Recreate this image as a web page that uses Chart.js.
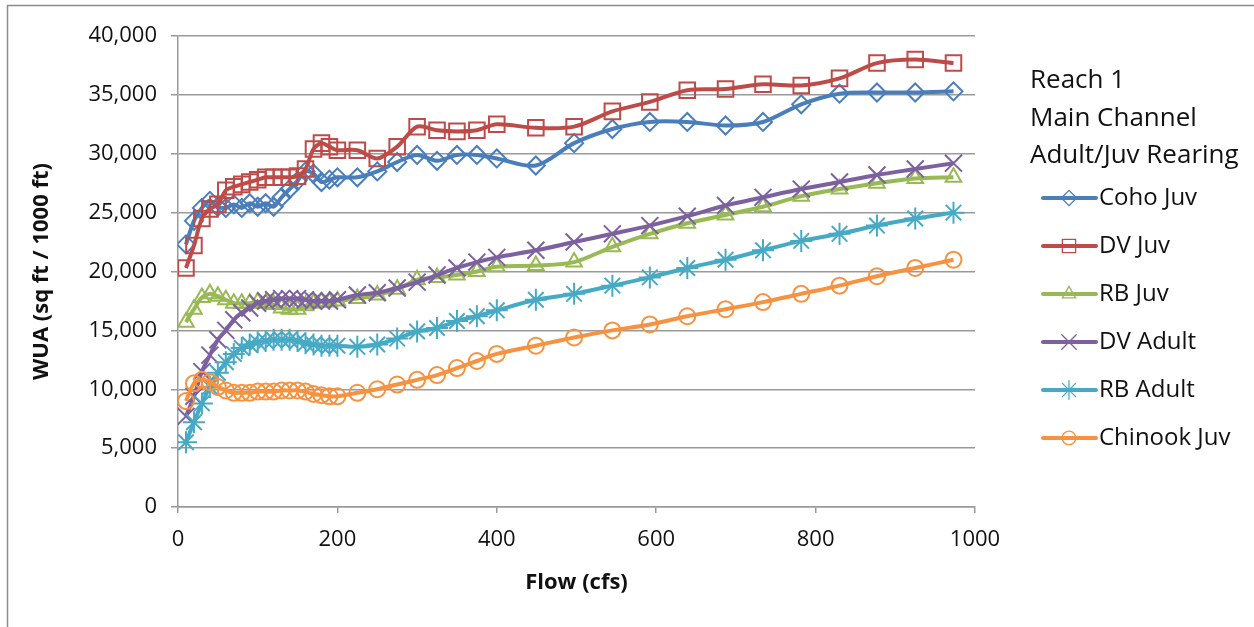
<!DOCTYPE html>
<html>
<head>
<meta charset="utf-8">
<title>Reach 1 Main Channel WUA</title>
<script src="https://cdn.jsdelivr.net/npm/chart.js@4.4.0/dist/chart.umd.min.js"></script>
<style>
  html, body { margin: 0; padding: 0; background: #fff; }
  #wrap { position: relative; width: 1254px; height: 627px; }
</style>
</head>
<body>
<div id="wrap"><canvas id="wua" width="1254" height="627"></canvas></div>
<script>
// flow steps (cfs)
const flows = [10, 20, 30, 40, 50, 60, 70, 80, 90, 100, 110, 120, 130, 140, 150, 160, 170, 180, 190, 200,
  225, 250, 275, 300, 325, 350, 375, 400,
  449, 497, 545, 592, 639, 687, 734, 782, 830, 877, 925, 973];

// weighted usable area, sq ft / 1000 ft
const cohoJuv = [22300, 24300, 25400, 26000, 25500, 25400, 25700, 25400, 25800, 25500, 25800, 25500, 26300, 27000, 27700, 28500, 28300, 27600, 27800, 28000,
  28000, 28500, 29300, 29900, 29400, 29900, 29900, 29600,
  29000, 30900, 32100, 32700, 32700, 32400, 32700, 34200, 35100, 35200, 35200, 35300];
const dvJuv = [20300, 22200, 24500, 25300, 25700, 26900, 27200, 27400, 27600, 27800, 28000, 28000, 28000, 28000, 28100, 28700, 30400, 30900, 30600, 30300,
  30300, 29600, 30600, 32300, 32000, 31900, 32000, 32500,
  32200, 32300, 33600, 34400, 35400, 35500, 35900, 35800, 36400, 37700, 38000, 37700];
const rbJuv = [15700, 16800, 17800, 18100, 17900, 17600, 17300, 17300, 17300, 17400, 17300, 17200, 16900, 16800, 16800, 17100, 17300, 17400, 17400, 17500,
  17700, 18000, 18500, 19300, 19500, 19700, 20000, 20400,
  20500, 20800, 22100, 23200, 24100, 24800, 25500, 26400, 27000, 27500, 27900, 28000];
const dvAdult = [7700, 9400, 11500, 12900, 14200, 15000, 15900, 16500, 16900, 17300, 17500, 17600, 17700, 17700, 17700, 17600, 17500, 17500, 17500, 17600,
  18000, 18200, 18600, 19100, 19700, 20300, 20800, 21200,
  21800, 22500, 23200, 23900, 24700, 25600, 26300, 27000, 27600, 28200, 28700, 29200];
const rbAdult = [5500, 7200, 8800, 10200, 11400, 12300, 13000, 13500, 13800, 14000, 14100, 14200, 14200, 14200, 14100, 13900, 13800, 13700, 13700, 13700,
  13600, 13800, 14300, 14900, 15200, 15800, 16200, 16700,
  17600, 18100, 18800, 19500, 20300, 21000, 21800, 22600, 23200, 23900, 24500, 25000];
const chinookJuv = [9000, 10500, 10800, 10600, 10200, 9900, 9700, 9700, 9700, 9800, 9800, 9800, 9900, 9900, 9900, 9800, 9600, 9500, 9400, 9400,
  9700, 10000, 10400, 10800, 11200, 11800, 12400, 13000,
  13700, 14400, 15000, 15500, 16200, 16800, 17400, 18100, 18800, 19600, 20300, 21000];

const seriesNames = ["Coho Juv", "DV Juv", "RB Juv", "DV Adult", "RB Adult", "Chinook Juv"];
const legendTitle = ["Reach 1", "Main Channel", "Adult/Juv Rearing"];
const xTicks = [0, 200, 400, 600, 800, 1000];
const yTicks = [0, 5000, 10000, 15000, 20000, 25000, 30000, 35000, 40000];

const FONT = "'Open Sans', 'Liberation Sans', sans-serif";
const GRID = "#9a9a9a";

const styles = [
  { color: "#4a7ebb", marker: "rectRot", r: 9 },
  { color: "#be4b48", marker: "rect", r: 11 },
  { color: "#98b954", marker: "triangle", r: 9 },
  { color: "#7d60a0", marker: "crossRot", r: 12 },
  { color: "#46aac5", marker: "star", r: 11 },
  { color: "#f69240", marker: "circle", r: 8 },
];

const values = [cohoJuv, dvJuv, rbJuv, dvAdult, rbAdult, chinookJuv];

const datasets = values.map((vals, i) => ({
  label: seriesNames[i],
  data: flows.map((f, j) => ({ x: f, y: vals[j] })),
  borderColor: styles[i].color,
  borderWidth: 4,
  pointStyle: styles[i].marker,
  pointRadius: styles[i].r,
  pointBorderColor: styles[i].color,
  pointBackgroundColor: "rgba(0,0,0,0)",
  pointBorderWidth: 2,
  tension: 0.3,
  order: values.length - i,   // later series sit on top
}));

// legend on the right plus the outer frame
const sideLegend = {
  id: "sideLegend",
  afterDraw(chart) {
    const ctx = chart.ctx;
    ctx.save();
    ctx.strokeStyle = "#8c8c8c";
    ctx.lineWidth = 1.5;
    ctx.beginPath();
    ctx.moveTo(7.5, 627);
    ctx.lineTo(7.5, 5.5);
    ctx.lineTo(1254, 5.5);
    ctx.stroke();

    ctx.fillStyle = "#111";
    ctx.font = "26px " + FONT;
    ctx.textBaseline = "middle";
    ctx.textAlign = "left";
    legendTitle.forEach((t, i) => ctx.fillText(t, 1030, 81 + i * 37.5));

    ctx.font = "24px " + FONT;
    chart.data.datasets.forEach((ds, i) => {
      const y = 198 + i * 48;
      ctx.strokeStyle = ds.borderColor;
      ctx.lineWidth = ds.borderWidth;
      ctx.lineCap = "round";
      ctx.beginPath();
      ctx.moveTo(1043, y);
      ctx.lineTo(1096, y);
      ctx.stroke();
      ctx.fillStyle = "rgba(0,0,0,0)";
      ctx.strokeStyle = ds.pointBorderColor;
      ctx.lineWidth = 1.3;
      Chart.helpers.drawPoint(ctx, { pointStyle: ds.pointStyle, radius: ds.pointRadius * 0.85, rotation: 0, borderWidth: 1.3 }, 1069, y);
      ctx.fillStyle = "#111";
      ctx.fillText(ds.label, 1099, y);
    });
    ctx.restore();
  }
};

new Chart(document.getElementById("wua"), {
  type: "line",
  data: { datasets },
  plugins: [sideLegend],
  options: {
    responsive: false,
    animation: false,
    layout: { padding: { left: 0, top: 36, right: 279, bottom: 0 } },
    plugins: { legend: { display: false }, tooltip: { enabled: false } },
    scales: {
      x: {
        type: "linear",
        min: 0,
        max: 1000,
        afterBuildTicks(scale) { scale.ticks = xTicks.map(v => ({ value: v })); },
        afterFit(scale) { scale.height = 120; },
        ticks: { color: "#111", font: { family: FONT, size: 22 }, padding: 14, maxRotation: 0, callback: v => String(v) },
        grid: { display: true, drawOnChartArea: false, drawTicks: true, tickLength: 6, color: GRID, lineWidth: 1.5 },
        border: { display: true, color: GRID, width: 1.5 },
        title: {
          display: true, text: "Flow (cfs)", color: "#111",
          font: { family: FONT, size: 22, weight: "bold" },
          padding: { top: 0, bottom: 31 }
        }
      },
      y: {
        min: 0,
        max: 40000,
        afterBuildTicks(scale) { scale.ticks = yTicks.map(v => ({ value: v })); },
        afterFit(scale) { scale.width = 178; },
        ticks: {
          color: "#111", font: { family: FONT, size: 22 }, padding: 14,
          callback: v => v.toLocaleString("en-US")
        },
        grid: { color: GRID, lineWidth: 1.5, drawTicks: true, tickLength: 7 },
        border: { display: true, color: GRID, width: 1.5 },
        title: {
          display: true, text: "WUA (sq ft / 1000 ft)", color: "#111",
          font: { family: FONT, size: 22, weight: "bold" },
          padding: { top: 29, bottom: 0 }
        }
      }
    }
  }
});
</script>
</body>
</html>
